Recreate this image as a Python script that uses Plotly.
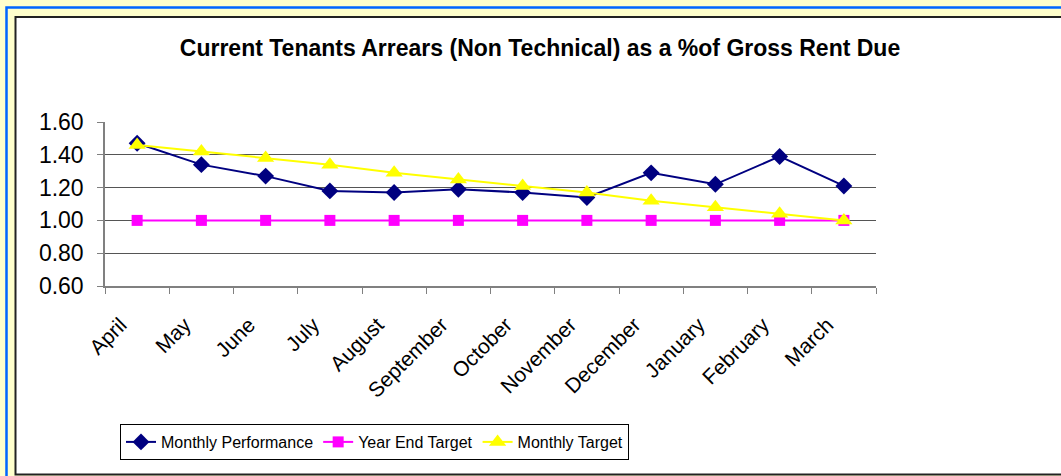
import plotly.graph_objects as go

months = ["April", "May", "June", "July", "August", "September", "October",
          "November", "December", "January", "February", "March"]
monthly_performance = [1.47, 1.34, 1.27, 1.18, 1.17, 1.19, 1.17, 1.14, 1.29, 1.22, 1.39, 1.21]
year_end_target = [1.00] * 12
monthly_target = [1.46, 1.42, 1.38, 1.34, 1.29, 1.25, 1.21, 1.17, 1.12, 1.08, 1.04, 1.00]

W, H = 1061, 476
L, R, T, B = 105, 876, 122, 286  # plot area in px
pw, ph = R - L, B - T

def px_x(x):
    return (x - L) / pw

def px_y(y):
    return (B - y) / ph

fig = go.Figure()
fig.add_trace(go.Scatter(x=months, y=monthly_performance, name="Monthly Performance",
                         mode="lines+markers", line=dict(color="#000080", width=2),
                         marker=dict(symbol="diamond", size=13, color="#000080")))
fig.add_trace(go.Scatter(x=months, y=year_end_target, name="Year End Target",
                         mode="lines+markers", line=dict(color="#FF00FF", width=2),
                         marker=dict(symbol="square", size=11, color="#FF00FF")))
fig.add_trace(go.Scatter(x=months, y=monthly_target, name="Monthly Target",
                         mode="lines+markers", line=dict(color="#FFFF00", width=2),
                         marker=dict(symbol="triangle-up", size=15, color="#FFFF00")))

shapes = [
    dict(type="rect", xref="paper", yref="paper",
         x0=px_x(6.5), x1=px_x(1090), y0=px_y(7.5), y1=px_y(510),
         line=dict(color="#0066FF", width=2.5), fillcolor="#FFFFCC", layer="below"),
    dict(type="rect", xref="paper", yref="paper",
         x0=px_x(15.5), x1=px_x(1090), y0=px_y(17), y1=px_y(474.5),
         line=dict(color="#222222", width=2), fillcolor="#FFFFFF", layer="below"),
]

pad = "\u00a0" * 4
tick_text = [m + pad for m in months]

fig.update_layout(
    width=W, height=H,
    margin=dict(l=L, r=W - R, t=T, b=H - B, pad=0),
    paper_bgcolor="#FFFFCC",
    plot_bgcolor="rgba(0,0,0,0)",
    font=dict(family="Arial, Liberation Sans, sans-serif", color="#000000"),
    title=dict(text="<b>Current Tenants Arrears (Non Technical) as a %of Gross Rent Due</b>",
               x=540 / W, xanchor="center", y=1 - 48 / H, yanchor="middle",
               font=dict(size=23, color="#000000")),
    shapes=shapes,
    showlegend=True,
    legend=dict(orientation="h", x=px_x(120), xanchor="left", y=px_y(424), yanchor="top",
                bgcolor="#FFFFFF", bordercolor="#000000", borderwidth=1,
                font=dict(size=16), itemwidth=30, tracegroupgap=0),
    xaxis=dict(type="category", range=[-0.5, 11.5], tickson="boundaries",
               ticks="outside", ticklen=6, tickcolor="#808080",
               showline=True, linecolor="#808080", linewidth=1.5,
               showgrid=False, tickangle=-45, tickfont=dict(size=21),
               tickmode="array", tickvals=months, ticktext=tick_text,
               ticklabelstandoff=0),
    yaxis=dict(range=[0.6, 1.6], dtick=0.2, tick0=0.6, tickformat=".2f",
               ticks="outside", ticklen=6, tickcolor="#808080",
               showline=True, linecolor="#808080", linewidth=1.5,
               showgrid=True, gridcolor="#555555", gridwidth=1,
               zeroline=False, tickfont=dict(size=23), ticklabelstandoff=9),
)

fig.write_html("out.html",
               config={"displayModeBar": False},
               post_script="document.body.style.margin='0';document.body.style.padding='0';"
                           "document.body.style.overflow='hidden';")
